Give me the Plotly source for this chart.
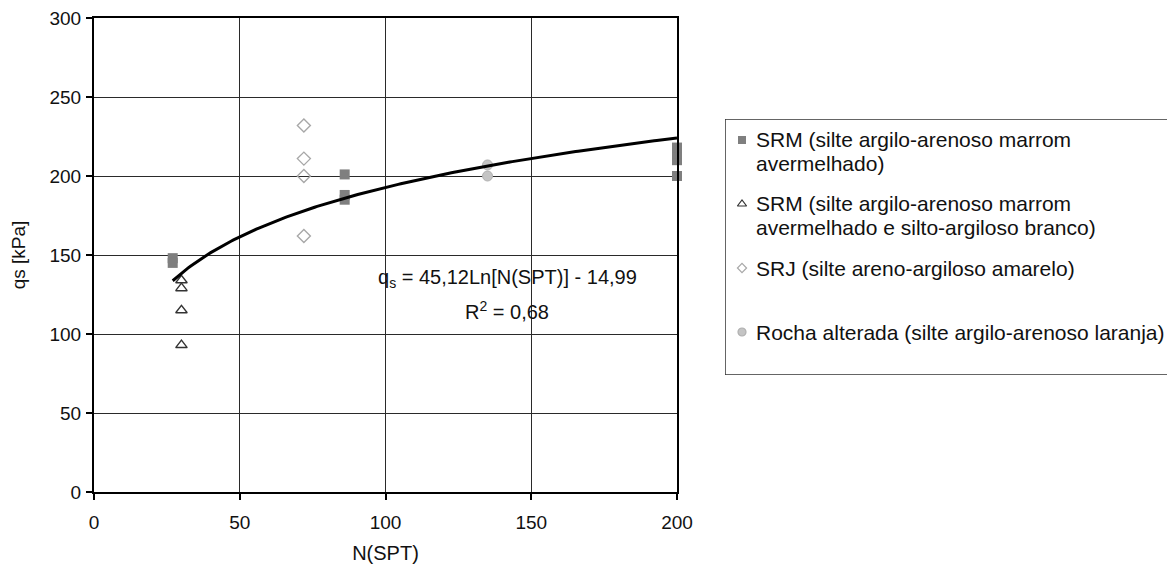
import numpy as np
import plotly.graph_objects as go

# ---- data ----
srm1_x = [27, 27, 86, 86, 86, 200, 200, 200, 200]
srm1_y = [148, 145, 201, 188, 185, 200, 210, 214, 218]

srm2_x = [30, 30, 30, 30]
srm2_y = [134, 129, 115, 93]

srj_x = [72, 72, 72, 72]
srj_y = [232, 211, 200, 162]

rocha_x = [135, 135]
rocha_y = [200, 207]

# trend line: qs = a*Ln(N) + b
trend_a = 45.12
trend_b = -14.99
trend_range = [27, 200]

x_ticks = [0, 50, 100, 150, 200]
y_ticks = [0, 50, 100, 150, 200, 250, 300]

legend_lines = [
    ["SRM (silte argilo-arenoso marrom", "avermelhado)"],
    ["SRM (silte argilo-arenoso marrom", "avermelhado e silto-argiloso branco)"],
    ["SRJ (silte areno-argiloso amarelo)"],
    ["Rocha alterada (silte argilo-arenoso laranja)"],
]

eq_text = "q<sub>s</sub> = 45,12Ln[N(SPT)] - 14,99"
r2_text = "R<sup>2</sup> = 0,68"

FONT = "Liberation Sans, Arial, sans-serif"

# ---- styles ----
styles = [
    dict(symbol="square", color="#7f7f7f", size=10, line=dict(width=0)),
    dict(symbol="triangle-up-open", color="#333333", size=10, line=dict(width=1.4, color="#333333")),
    dict(symbol="diamond-open", color="#a8a8a8", size=10, line=dict(width=1.4, color="#a8a8a8")),
    dict(symbol="circle", color="#c4c4c4", size=10, line=dict(width=1, color="#b0b0b0")),
]

# page body has an 8px margin; work in screen pixels and convert
OFF = 8
W, H = 1175 - OFF, 568 - OFF
ML = 94 - OFF
MT = 18 - OFF
plot_bottom_screen = 492
MB = H - (plot_bottom_screen - OFF)
MR = 0
plot_w = W - ML - MR
plot_h = H - MT - MB
main_right_px = 677 - OFF

fig = go.Figure()

series = [(srm1_x, srm1_y), (srm2_x, srm2_y), (srj_x, srj_y), (rocha_x, rocha_y)]
for (xs, ys), st in zip(series, styles):
    fig.add_trace(go.Scatter(x=xs, y=ys, mode="markers", marker=st,
                             showlegend=False, cliponaxis=False, xaxis="x", yaxis="y"))

tx = np.linspace(trend_range[0], trend_range[1], 200)
ty = trend_a * np.log(tx) + trend_b
fig.add_trace(go.Scatter(x=tx, y=ty, mode="lines", line=dict(color="black", width=3),
                         showlegend=False, cliponaxis=False))

# ---- custom legend on a helper axis (screen pixel coordinates) ----
LX0, LX1, LY0, LY1 = 725, 1174, 119, 375
line_ys = [[140, 164], [204, 228], [268], [332]]
for st, ys in zip(styles, line_ys):
    m = dict(st)
    m["size"] = 8 if st["symbol"] != "diamond-open" else 7
    if "line" in m and m["line"].get("width", 0) > 0:
        m["line"] = dict(m["line"], width=1.2)
    fig.add_trace(go.Scatter(x=[742], y=[ys[0]], mode="markers", marker=m,
                             showlegend=False, xaxis="x2", yaxis="y2", hoverinfo="skip"))

annotations = []
for lines, ys in zip(legend_lines, line_ys):
    for t, yy in zip(lines, ys):
        annotations.append(dict(x=754, y=yy, xref="x2", yref="y2", text=t, showarrow=False,
                                xanchor="left", yanchor="middle",
                                font=dict(family=FONT, size=21, color="#111111")))

annotations.append(dict(x=141.7, y=135.3, xref="x", yref="y", text=eq_text, showarrow=False,
                        xanchor="center", yanchor="middle",
                        font=dict(family=FONT, size=20, color="#111111")))
annotations.append(dict(x=141.7, y=115, xref="x", yref="y", text=r2_text, showarrow=False,
                        xanchor="center", yanchor="middle",
                        font=dict(family=FONT, size=20, color="#111111")))

shapes = [dict(type="rect", xref="x2", yref="y2", x0=LX0, x1=LX1, y0=LY0, y1=LY1,
               line=dict(color="#333333", width=1.5), fillcolor="rgba(0,0,0,0)")]

fig.update_layout(
    width=W, height=H,
    margin=dict(l=ML, r=MR, t=MT, b=MB, autoexpand=False),
    paper_bgcolor="white", plot_bgcolor="white",
    font=dict(family=FONT, size=19, color="#111111"),
    xaxis=dict(domain=[0, (main_right_px - ML) / plot_w], range=[0, 200],
               tickvals=x_ticks, ticks="outside", ticklen=6, tickwidth=1.5, tickcolor="black",
               showgrid=True, gridcolor="#2a2a2a", gridwidth=1.4,
               showline=True, linecolor="black", linewidth=2, mirror=True,
               zeroline=False, tickfont=dict(size=19), ticklabelstandoff=6,
               ticklabeloverflow="allow",
               title=dict(text="N(SPT)", font=dict(size=20), standoff=14)),
    yaxis=dict(domain=[0, 1], range=[0, 300],
               tickvals=y_ticks, ticks="outside", ticklen=6, tickwidth=1.5, tickcolor="black",
               showgrid=True, gridcolor="#2a2a2a", gridwidth=1.4,
               showline=True, linecolor="black", linewidth=2, mirror=True,
               zeroline=False, tickfont=dict(size=19), ticklabelstandoff=1,
               ticklabeloverflow="allow",
               title=dict(text="qs [kPa]", font=dict(size=19), standoff=24)),
    xaxis2=dict(domain=[(LX0 - OFF - ML) / plot_w, 1.0], range=[LX0, 1175], visible=False,
                anchor="y2", fixedrange=True),
    yaxis2=dict(domain=[(plot_bottom_screen - LY1) / plot_h, (plot_bottom_screen - LY0) / plot_h],
                range=[LY1, LY0], visible=False, anchor="x2", fixedrange=True),
    annotations=annotations,
    shapes=shapes,
    showlegend=False,
)

fig.write_html("out.html")
